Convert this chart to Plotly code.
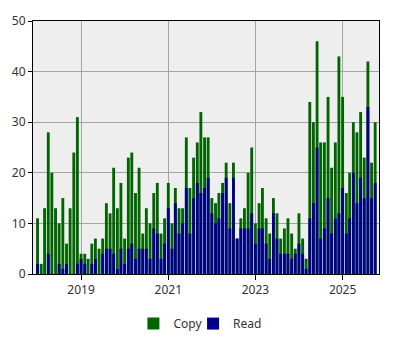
import plotly.graph_objects as go

months = [f"{y}-{m:02d}-01" for y in range(2018, 2026) for m in range(1, 13)][:94]

copy_counts = [11, 2, 13, 28, 20, 13, 10, 15, 6, 13, 24, 31,
               4, 4, 3, 6, 7, 5, 7, 14, 12, 21, 13, 18,
               7, 23, 24, 16, 21, 8, 13, 10, 16, 18, 8, 11,
               18, 10, 17, 13, 13, 27, 17, 23, 26, 32, 27, 27,
               15, 14, 16, 18, 22, 14, 22, 7, 11, 13, 20, 25,
               10, 14, 17, 11, 8, 15, 12, 7, 9, 11, 8, 5,
               12, 7, 3, 34, 30, 46, 26, 26, 35, 21, 26, 43,
               35, 16, 20, 30, 28, 32, 23, 42, 22, 30]
read_counts = [2, 0, 0, 4, 0, 0, 2, 1, 2, 0, 0, 2,
               3, 2, 0, 2, 3, 0, 4, 5, 5, 4, 1, 5,
               2, 5, 6, 3, 5, 5, 5, 3, 9, 8, 3, 6,
               13, 5, 14, 8, 10, 17, 8, 15, 18, 16, 17, 19,
               12, 10, 11, 16, 19, 9, 19, 7, 9, 9, 9, 12,
               6, 9, 9, 6, 3, 12, 7, 4, 4, 4, 3, 4,
               6, 4, 1, 11, 14, 25, 7, 9, 15, 8, 11, 12,
               17, 8, 11, 20, 14, 19, 15, 33, 15, 18]

year_ticks = ["2019-01-01", "2021-01-01", "2023-01-01", "2025-01-01"]
year_labels = ["2019", "2021", "2023", "2025"]

bar_w = 24 * 86400000

fig = go.Figure()
fig.add_trace(go.Bar(x=months, y=copy_counts, name="Copy", marker_color="#006400",
                     marker_line_width=0, width=bar_w, legend="legend", showlegend=True))
fig.add_trace(go.Bar(x=months, y=read_counts, name="Read", marker_color="#00008B",
                     marker_line_width=0, width=bar_w, legend="legend2", showlegend=True))

leg_common = dict(orientation="h", xanchor="left", y=-0.196, yanchor="middle",
                  font=dict(size=12, color="#333333"), itemwidth=30,
                  bgcolor="rgba(0,0,0,0)")

fig.update_layout(
    width=400, height=350,
    margin=dict(l=31, r=21, t=15, b=75),
    barmode="overlay",
    showlegend=True,
    plot_bgcolor="#eeeeee",
    paper_bgcolor="white",
    font=dict(family="Noto Sans, DejaVu Sans, sans-serif", size=12, color="#333333"),
    legend=dict(x=0.2902, **leg_common),
    legend2=dict(x=0.4626, **leg_common),
    xaxis=dict(
        type="date",
        range=["2017-11-24", "2025-11-02"],
        tickvals=year_ticks, ticktext=year_labels,
        ticks="outside", ticklen=5, tickcolor="black",
        showgrid=True, gridcolor="#a4a4a4", gridwidth=1,
        showline=True, linecolor="black", linewidth=1, mirror=True,
        zeroline=False,
    ),
    yaxis=dict(
        range=[0, 50], dtick=10,
        ticks="outside", ticklen=4, tickcolor="black",
        showgrid=True, gridcolor="#a4a4a4", gridwidth=1,
        showline=True, linecolor="black", linewidth=1, mirror=True,
        zeroline=False,
    ),
)

fig.write_html("out.html")
